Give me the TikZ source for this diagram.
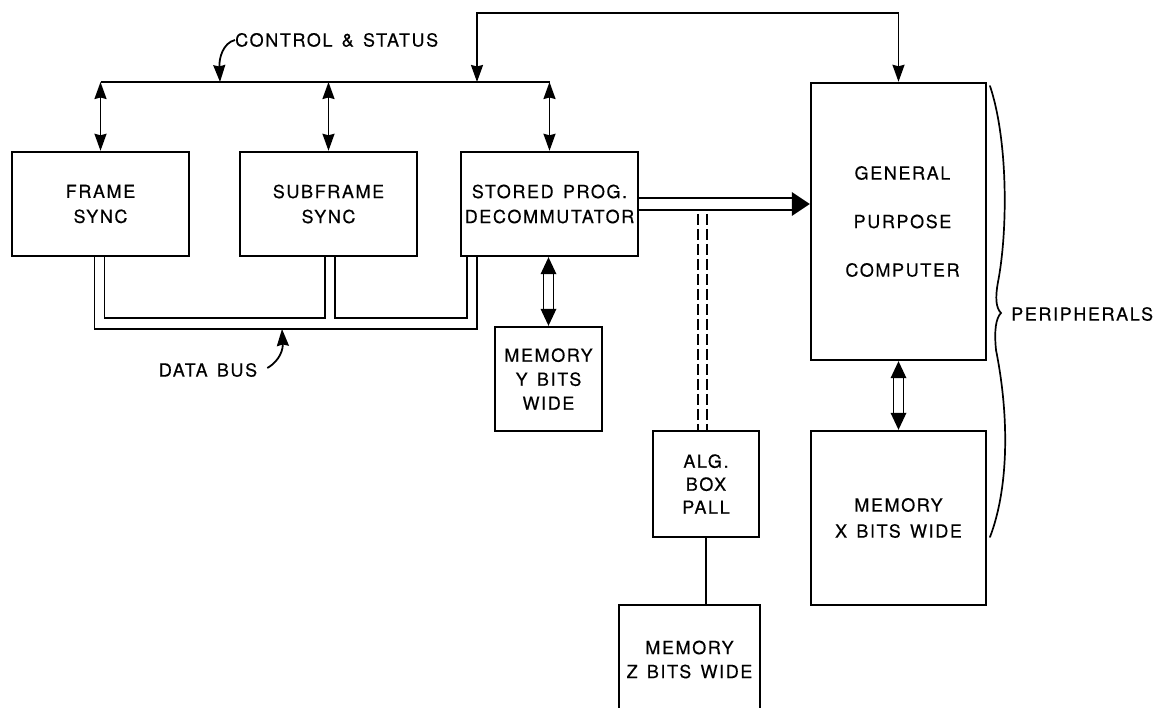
\documentclass[tikz,border=0pt]{standalone}
\usepackage{fontspec}
\setmainfont{TeX Gyre Heros}
\newfontfamily\labfont{TeX Gyre Heros}[LetterSpace=9,WordSpace=1.4,FakeBold=0.4]
\usetikzlibrary{arrows.meta,calc,decorations.pathreplacing}
\newcommand\labsz[1]{\labfont\fontsize{18}{#1}\selectfont}
\newcommand\hollowv[2]{%
  \fill (#1) -- ($(#1)+(-8,17)$) -- ($(#1)+(8,17)$) -- cycle;
  \fill (#2) -- ($(#2)+(-8,-17)$) -- ($(#2)+(8,-17)$) -- cycle;
  \draw[conn] ($(#1)+(-5,16)$) -- ($(#2)+(-5,-16)$);
  \draw[conn] ($(#1)+(5,16)$) -- ($(#2)+(5,-16)$);}
\begin{document}
\begin{tikzpicture}[x=1pt,y=-1pt,
  box/.style={draw, line width=2.4pt, rectangle, inner sep=0pt, align=center},
  conn/.style={line width=1.8pt},
  dashl/.style={line width=1.8pt, dash pattern=on 11pt off 4pt},
  tp/.tip={Stealth[length=17pt,width=12pt,inset=1.5pt]},
  lab/.style={font=\labsz{21}, inner sep=0pt}]
\useasboundingbox (0,0) rectangle (1157,708);

% boxes
\node[box, minimum width=177, minimum height=104, font=\labsz{25}] (fs) at (100.5,204) {FRAME\\SYNC};
\node[box, minimum width=177, minimum height=104, font=\labsz{25}] (sf) at (328.5,204) {SUBFRAME\\SYNC};
\node[box, minimum width=177, minimum height=104, font=\labsz{25}] (sp) at (549.5,204) {STORED PROG.\\DECOMMUTATOR};
\node[box, minimum width=175, minimum height=277, font=\labsz{48.5}] (gpc) at (898.5,221.5) {\hspace*{8pt}GENERAL\\\hspace*{8pt}PURPOSE\\\hspace*{8pt}COMPUTER};
\node[box, minimum width=107, minimum height=104, font=\labsz{24}] (my) at (548.5,379) {MEMORY\\Y BITS\\WIDE};
\node[box, minimum width=106, minimum height=106, font=\labsz{23}] (alg) at (706,484) {ALG.\\BOX\\PALL};
\node[box, minimum width=175, minimum height=174, font=\labsz{26}] (mx) at (898.5,518) {MEMORY\\X BITS WIDE};
\node[box, minimum width=141, minimum height=109, font=\labsz{24}] (mz) at (689.5,659.5) {MEMORY\\Z BITS WIDE};

% control & status bus
\coordinate (cb) at (300,82);
\draw[conn] (fs.north |- cb) -- (sp.north |- cb);
\draw[conn, {tp}-{tp}] (fs.north |- cb) -- (fs.north);
\draw[conn, {tp}-{tp}] (sf.north |- cb) -- (sf.north);
\draw[conn, {tp}-{tp}] (sp.north |- cb) -- (sp.north);

% loop to computer
\coordinate (loopL) at (477,82);
\coordinate (loopT) at (477,13);
\draw[conn, {tp}-{tp}] (loopL) -- (loopT) -| (gpc.north);

% control & status label
\node[lab, anchor=west] (cs) at (235,40) {CONTROL \& STATUS};
\coordinate (csT) at (220,82);
\draw[conn, -{tp}] (cs.west) .. controls (223,43) and (219,58) .. (csT);

% data bus
\coordinate (busbot) at (282,329);
\coordinate (busin1) at (200,318);
\coordinate (busin2) at (400,318);
\coordinate (fo) at ($(fs.south)+(-6,0)$);
\coordinate (fi) at ($(fs.south)+(4,0)$);
\coordinate (si1) at ($(sf.south)+(-3.5,0)$);
\coordinate (si2) at ($(sf.south)+(6.5,0)$);
\coordinate (pi) at ($(sp.south)+(-82.5,0)$);
\coordinate (po) at ($(sp.south)+(-72.5,0)$);
\draw[conn] (fo) |- (busbot) -| (po);
\draw[conn] (fi) |- (busin1) -| (si1);
\draw[conn] (si2) |- (busin2) -| (pi);
\node[lab] (db) at (208,370) {DATA BUS};
\draw[conn, -{tp}] ($(db.east)+(10,-2)$) .. controls (281,360) and (283,348) .. (busbot);

% stored prog -> computer (hollow arrow)
\coordinate (gt) at (gpc.west |- sp.east);
\coordinate (hu) at ($(sp.east)+(0,-6)$);
\coordinate (hl) at ($(sp.east)+(0,6)$);
\draw[conn] (hu) -- ($(gt)+(-14,-6)$);
\draw[conn] (hl) -- ($(gt)+(-14,6)$);
\fill (gt) -- ($(gt)+(-18,-12)$) -- ($(gt)+(-18,12)$) -- cycle;

% dashed link to ALG box
\coordinate (dl1) at ($(alg.north)+(-8,0)$);
\coordinate (dl2) at ($(alg.north)+(1,0)$);
\draw[dashl] ($(dl1 |- hl)+(0,4)$) -- (dl1);
\draw[dashl] ($(dl2 |- hl)+(0,4)$) -- (dl2);

% memory links
\coordinate (ya) at (sp.south -| my.north);
\hollowv{ya}{my.north}
\coordinate (xa) at (gpc.south -| mx.north);
\hollowv{xa}{mx.north}
\draw[conn] (alg.south) -- (alg.south |- mz.north);

% peripherals brace
\coordinate (br1) at (990,86);
\coordinate (brt) at (1001,313);
\coordinate (br2) at (990,537);
\draw[line width=1.7pt, line cap=round]
  (br1) .. controls (1008,140) and (1008,230) .. (998,282)
        .. controls (995,298) and (996,308) .. (brt)
        .. controls (996,318) and (994,330) .. (996,350)
        .. controls (1010,420) and (1008,490) .. (br2);
\node[lab, anchor=west] (per) at (1011,314) {PERIPHERALS};
\end{tikzpicture}
\end{document}
